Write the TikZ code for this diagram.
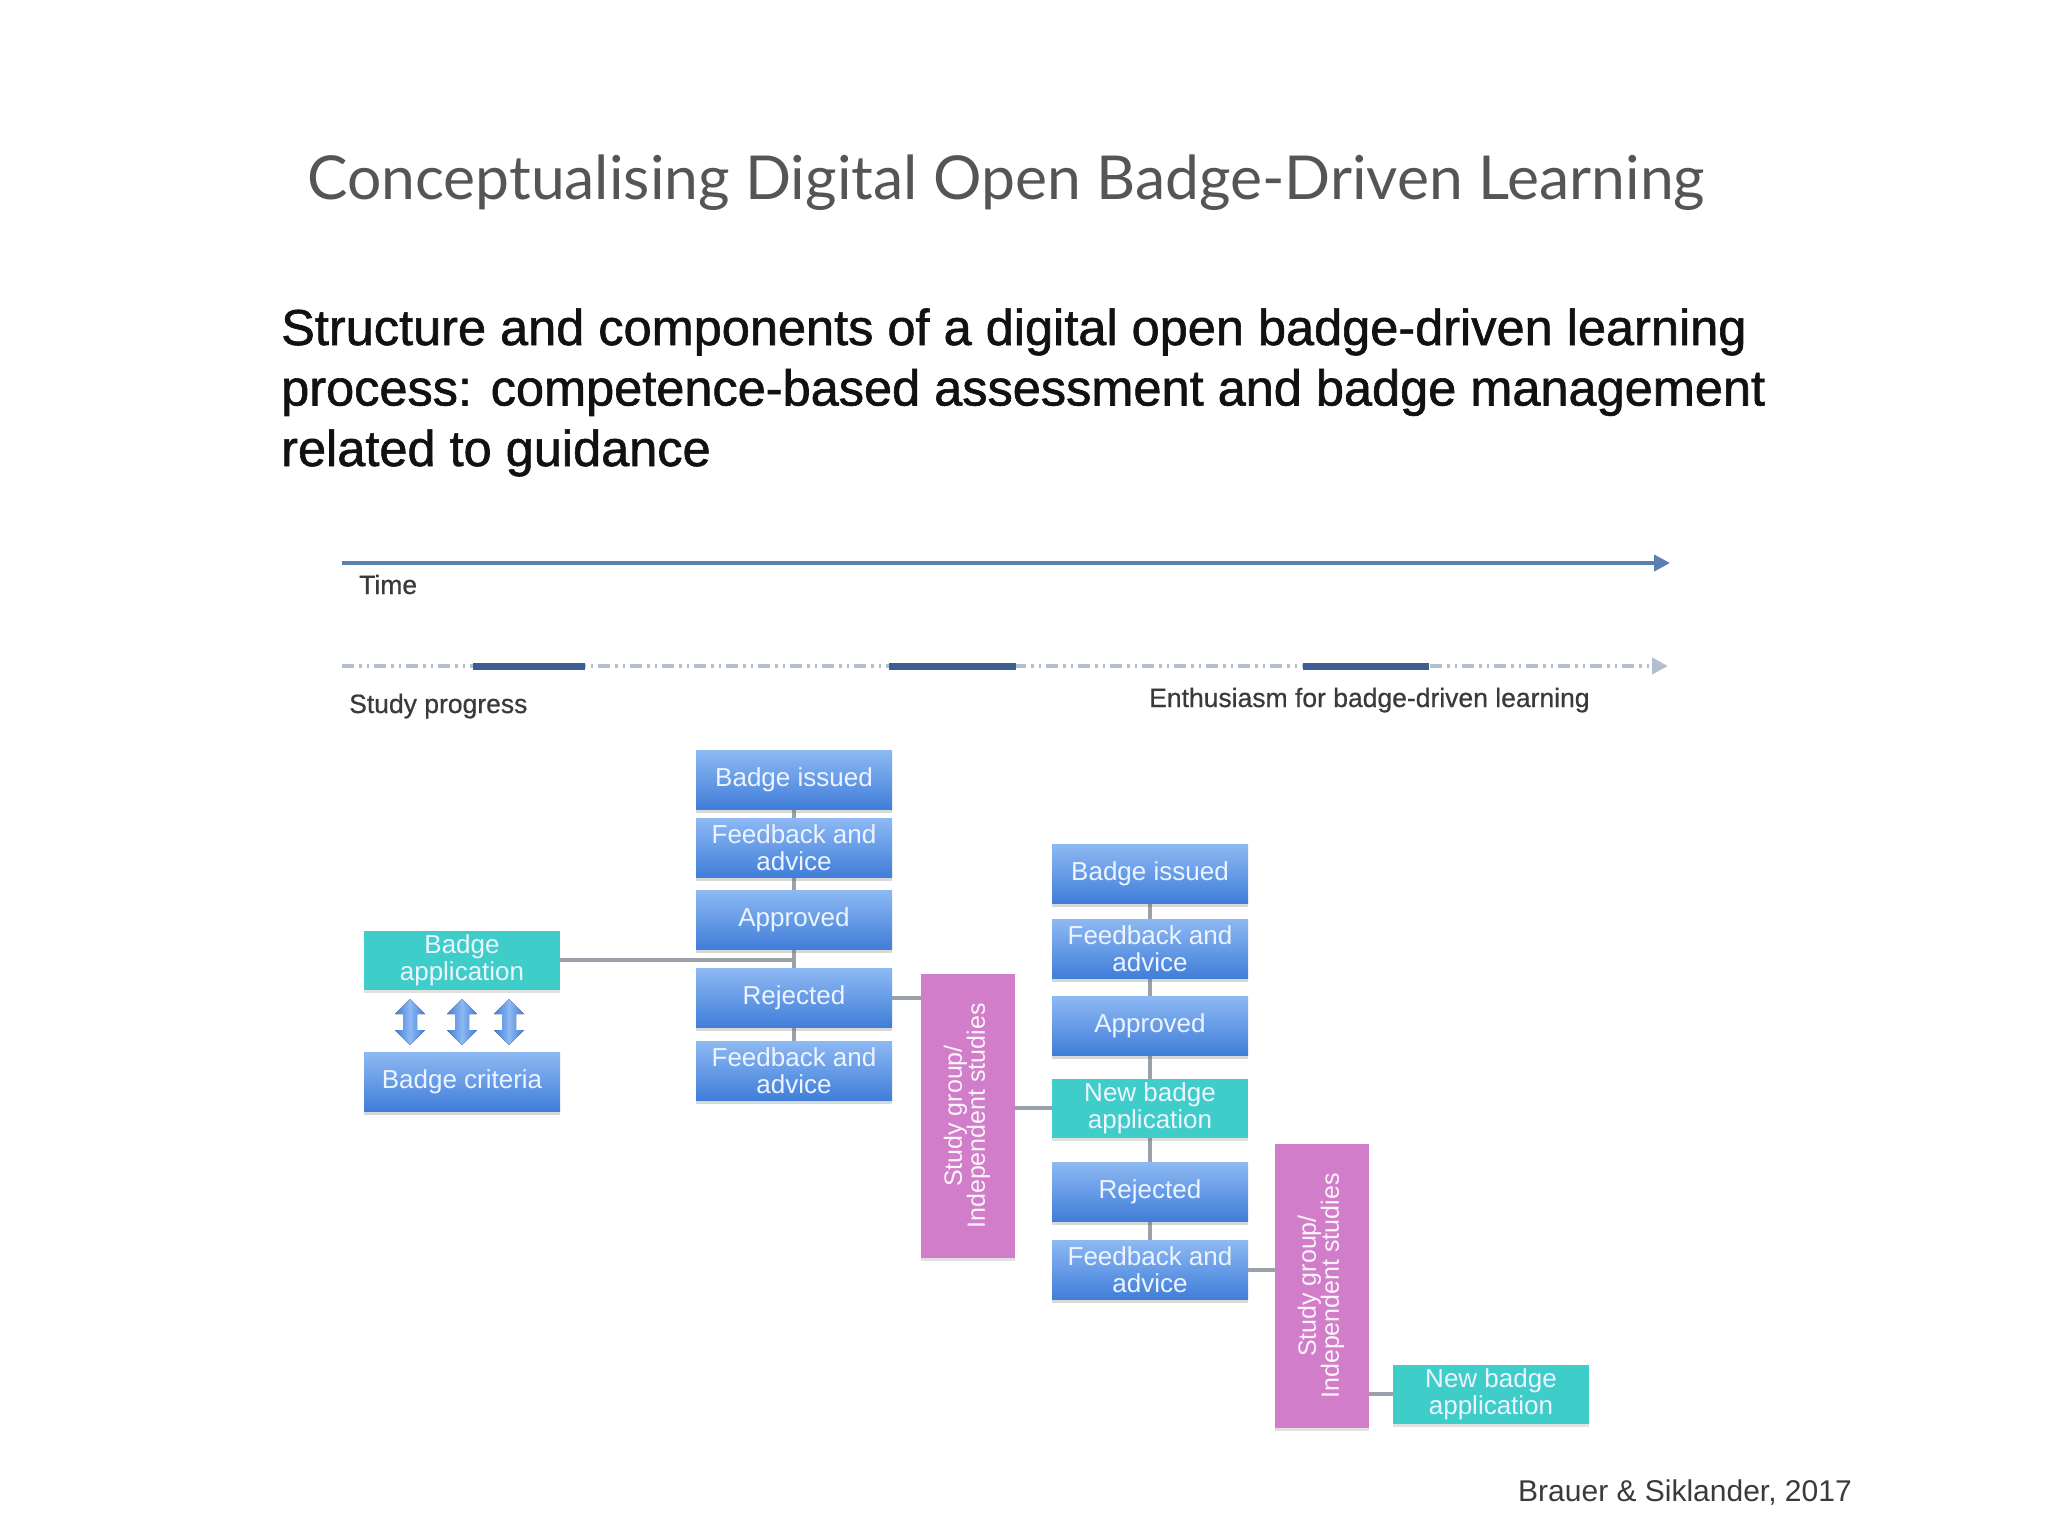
\documentclass[tikz,border=0pt]{standalone}
\usepackage{fontspec}
\setmainfont{Liberation Sans}
\newfontfamily\titlefont{Lato}
\usetikzlibrary{arrows.meta,shadows}
\pgfdeclarelayer{bg}
\pgfsetlayers{bg,main}
\definecolor{titlegray}{HTML}{555555}
\definecolor{subblack}{HTML}{111111}
\definecolor{labelgray}{HTML}{3A3A3A}
\definecolor{timeblue}{HTML}{5B80B4}
\definecolor{dashlight}{HTML}{B3BFCE}
\definecolor{dashdark}{HTML}{3B5F93}
\definecolor{boxtop}{HTML}{8DB8F3}
\definecolor{boxbot}{HTML}{3F7ED9}
\definecolor{tealc}{HTML}{3FCDC9}
\definecolor{pinkc}{HTML}{D17DC9}
\definecolor{linegray}{HTML}{9AA1AA}
\definecolor{boxtext}{HTML}{EEF4FF}
\tikzset{
  boxfont/.style={font=\fontsize{26}{27}\selectfont},
  bluebox/.style={boxfont, minimum width=196pt, minimum height=59pt, inner sep=0pt,
    align=center, text=boxtext, top color=boxtop, bottom color=boxbot, draw=none,
    drop shadow={shadow xshift=0pt, shadow yshift=-3pt, opacity=0.25, fill=black!60}},
  tealbox/.style={boxfont, minimum width=196pt, minimum height=59pt, inner sep=0pt,
    align=center, text=boxtext, fill=tealc, draw=none,
    drop shadow={shadow xshift=0pt, shadow yshift=-3pt, opacity=0.2, fill=black!60}},
  pinkbox/.style={font=\fontsize{25}{27}\selectfont, minimum width=94pt, minimum height=284pt,
    inner sep=0pt, fill=pinkc, text=white!92!pinkc, draw=none,
    drop shadow={shadow xshift=0pt, shadow yshift=-3pt, opacity=0.2, fill=black!60}},
  conn/.style={draw=linegray, line width=4.5pt},
  labeltext/.style={font=\fontsize{26.5}{28}\selectfont\addfontfeature{FakeBold=0.6}, text=labelgray, inner sep=0pt, anchor=base west},
  subtext/.style={font=\fontsize{50.5}{60}\selectfont\addfontfeature{FakeBold=1.2}, text=subblack, inner sep=0pt, anchor=base west},
  dblarrow/.style={left color=boxbot, right color=boxbot, middle color=boxtop, draw=none}
}
\newcommand{\pinktext}{\rotatebox{90}{\begin{tabular}{@{}c@{}}Study group/\\[-4pt]Independent studies\end{tabular}}}
\begin{document}
\begin{tikzpicture}[x=1pt,y=-1pt]
\useasboundingbox (0,0) rectangle (2048,1536);
\begin{pgfonlayer}{bg}
\fill[white] (0,0) rectangle (2048,1536);
\end{pgfonlayer}

% titles
\node[anchor=base west, inner sep=0pt, text=titlegray] (title) at (307,199)
  {\titlefont\fontsize{60.6}{70}\selectfont Conceptualising Digital Open Badge-Driven Learning};
\node[subtext] (sub1) at (281,345) {Structure and components of a digital open badge-driven learning};
\node[subtext] (sub2) at (281,405.5) {process: competence-based assessment and badge management};
\node[subtext] (sub3) at (281,466) {related to guidance};

% time axis
\coordinate (t0) at (342,563);
\coordinate (t1) at (1670,563);
\draw[timeblue, line width=4pt, -{Triangle[length=16pt,width=16pt]}] (t0) -- (t1);
\node[labeltext] (time) at (359,594) {Time};

% study progress line
\coordinate (d0) at (342,666);
\coordinate (d1) at (1668,666);
\draw[dashlight, line width=4.5pt, dash pattern=on 12pt off 5pt on 2.5pt off 5pt on 2.5pt off 5pt,
  -{Triangle[length=16pt,width=16pt]}] (d0) -- (d1);
\coordinate (s1a) at (473,666); \coordinate (s1b) at (585,666);
\coordinate (s2a) at (889,666); \coordinate (s2b) at (1016,666);
\coordinate (s3a) at (1303,666); \coordinate (s3b) at (1429,666);
\draw[dashdark, line width=7pt] (s1a) -- (s1b);
\draw[dashdark, line width=7pt] (s2a) -- (s2b);
\draw[dashdark, line width=7pt] (s3a) -- (s3b);
\node[labeltext] (sp) at (349,713) {Study progress};
\node[labeltext] (enth) at (1149,707) {Enthusiasm for badge-driven learning};

% left block
\node[tealbox] (ba) at (462,960) {Badge\\application};
\node[bluebox] (bc) at (462,1082) {Badge criteria};
\foreach \cx/\nm in {410/a1,462/a2,509/a3}{
  \fill[dblarrow] (\cx,999) -- (\cx+15,1014) -- (\cx+7,1014) -- (\cx+7,1030) -- (\cx+15,1030)
    -- (\cx,1045) -- (\cx-15,1030) -- (\cx-7,1030) -- (\cx-7,1014) -- (\cx-15,1014) -- cycle;
}

% column 1
\node[bluebox] (bi1) at (794,780) {Badge issued};
\node[bluebox] (fb1) at (794,848) {Feedback and\\advice};
\node[bluebox] (ap1) at (794,920) {Approved};
\node[bluebox] (rj1) at (794,998) {Rejected};
\node[bluebox] (fb2) at (794,1071) {Feedback and\\advice};

\node[pinkbox] (p1) at (968,1116) {\pinktext};

% column 2
\node[bluebox] (bi2) at (1150,874) {Badge issued};
\node[bluebox] (fb3) at (1150,949) {Feedback and\\advice};
\node[bluebox] (ap2) at (1150,1026) {Approved};
\node[tealbox] (nb1) at (1150,1108) {New badge\\application};
\node[bluebox] (rj2) at (1150,1192) {Rejected};
\node[bluebox] (fb4) at (1150,1270) {Feedback and\\advice};

\node[pinkbox] (p2) at (1322,1286) {\pinktext};
\node[tealbox] (nb2) at (1491,1394) {New badge\\application};

\node[anchor=base west, inner sep=0pt, text=labelgray, font=\fontsize{30}{32}\selectfont] (cite) at (1518,1501)
  {Brauer \& Siklander, 2017};

% connectors
\begin{pgfonlayer}{bg}
\draw[conn] (bi1.center) -- (fb2.center);
\draw[conn] (ba.east) -- (ba.east -| ap1.south);
\draw[conn] (rj1.east) -- (rj1.east -| p1.west);
\draw[conn] (bi2.center) -- (fb4.center);
\draw[conn] (nb1.west -| p1.east) -- (nb1.west);
\draw[conn] (fb4.east) -- (fb4.east -| p2.west);
\draw[conn] (nb2.west -| p2.east) -- (nb2.west);
\end{pgfonlayer}
\end{tikzpicture}
\end{document}
